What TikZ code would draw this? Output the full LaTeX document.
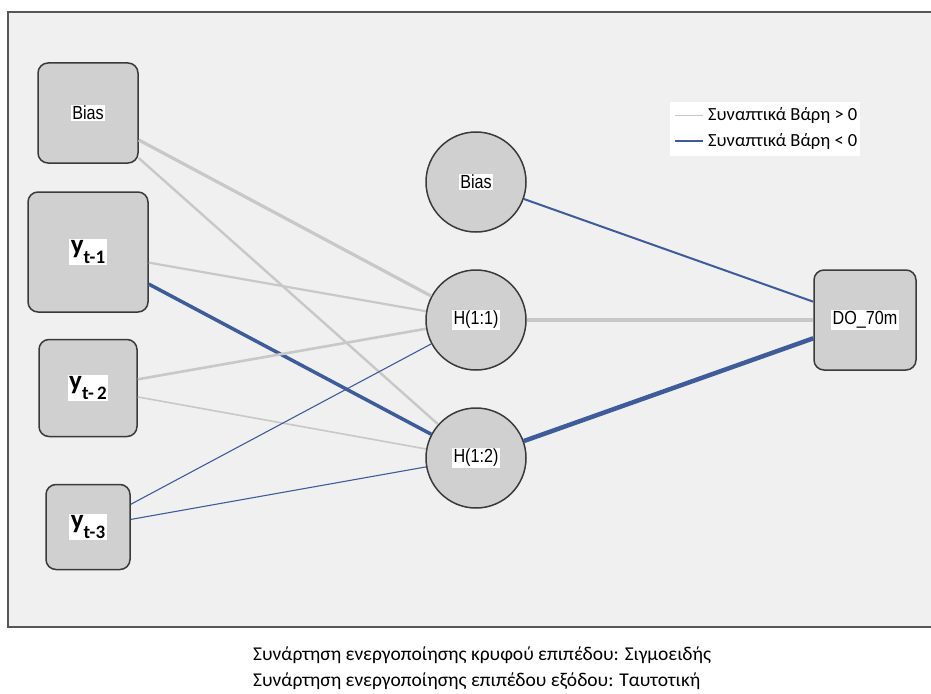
\documentclass[tikz,border=0pt]{standalone}
\usepackage{fontspec}
\setmainfont{Liberation Sans}
\newfontfamily\calib{Carlito}
\usetikzlibrary{positioning}
\usepackage{xcolor}
\definecolor{bgcol}{HTML}{F0F0F0}
\definecolor{nodecol}{HTML}{D0D0D0}
\definecolor{edgecol}{HTML}{3A3A3A}
\definecolor{poscol}{HTML}{C8C8C8}
\definecolor{negcol}{HTML}{3E5C99}
\setlength{\fboxsep}{1.5pt}
\newcommand{\lbl}[1]{\colorbox{white}{\scalebox{0.85}[1]{#1}}}
\newcommand{\ylag}[1]{\colorbox{white}{\calib\bfseries{\fontsize{27}{27}\selectfont y}\raisebox{-10pt}{\fontsize{19}{19}\selectfont t-#1}}}

\begin{document}
\begin{tikzpicture}[x=1pt,y=-1pt,
    box/.style={rectangle,rounded corners=10pt,draw=edgecol,fill=nodecol,line width=1.5pt,inner sep=0pt,font=\fontsize{19}{21}\selectfont},
    hid/.style={circle,draw=edgecol,fill=nodecol,line width=1.5pt,minimum size=100pt,inner sep=0pt,font=\fontsize{19}{21}\selectfont},
    wpos/.style={draw=poscol},
    wneg/.style={draw=negcol}]

\useasboundingbox (0,0) rectangle (931,693);
\fill[bgcol] (8,12) rectangle (931,627);
\draw[edgecol!85,line width=2pt] (931,12) -- (8,12) -- (8,627) -- (931,627);

% input layer
\node[box,minimum width=100pt,minimum height=100pt] (bias) at (88,113) {\lbl{Bias}};
\node[box,minimum width=120pt,minimum height=120pt] (lag1) at (88,252) {\ylag{1}};
\node[box,minimum width=98pt,minimum height=97pt] (lag2) at (88,388) {\ylag{\,2}};
\node[box,minimum width=84pt,minimum height=85pt] (lag3) at (88,527) {\ylag{3}};

% hidden layer
\node[hid] (hbias) at (476,182) {\lbl{Bias}};
\node[hid] (h11) at (476,320) {\lbl{H(1:1)}};
\node[hid] (h12) at (476,458) {\lbl{H(1:2)}};

% output layer
\node[box,minimum width=102pt,minimum height=100pt] (out) at (865,320) {\lbl{DO\_70m}};

% weights
\draw[wpos,line width=3.2pt] (bias) -- (h11);
\draw[wpos,line width=2.4pt] (bias) -- (h12);
\draw[wpos,line width=2.2pt] (lag1) -- (h11);
\draw[wneg,line width=3.5pt] (lag1) -- (h12);
\draw[wpos,line width=2.6pt] (lag2) -- (h11);
\draw[wpos,line width=1.6pt] (lag2) -- (h12);
\draw[wneg,line width=1.1pt] (lag3) -- (h11);
\draw[wneg,line width=1.1pt] (lag3) -- (h12);
\draw[wneg,line width=2pt] (hbias) -- (out);
\draw[wpos,line width=3.2pt] (h11) -- (out);
\draw[wneg,line width=4.5pt] (h12) -- (out);

% legend
\fill[white] (670,102) rectangle (860,156);
\coordinate (p1) at (675,115);
\coordinate (p2) at (703,115);
\coordinate (n1) at (675,141);
\coordinate (n2) at (703,141);
\node[anchor=west,inner sep=0pt,font=\calib\fontsize{18.5}{20}\selectfont] (ptxt) at (708,115) {Συναπτικά Βάρη > 0};
\node[anchor=west,inner sep=0pt,font=\calib\fontsize{18.5}{20}\selectfont] (ntxt) at (708,141) {Συναπτικά Βάρη < 0};
\draw[wpos,line width=1pt] (p1) -- (p2);
\draw[wneg,line width=2pt] (n1) -- (n2);

% caption
\node[anchor=west,align=left,inner sep=0pt,font=\calib\fontsize{19.5}{26}\selectfont] (cap) at (253,668)
  {Συνάρτηση ενεργοποίησης κρυφού επιπέδου: Σιγμοειδής\\Συνάρτηση ενεργοποίησης επιπέδου εξόδου: Ταυτοτική};

\end{tikzpicture}
\end{document}
